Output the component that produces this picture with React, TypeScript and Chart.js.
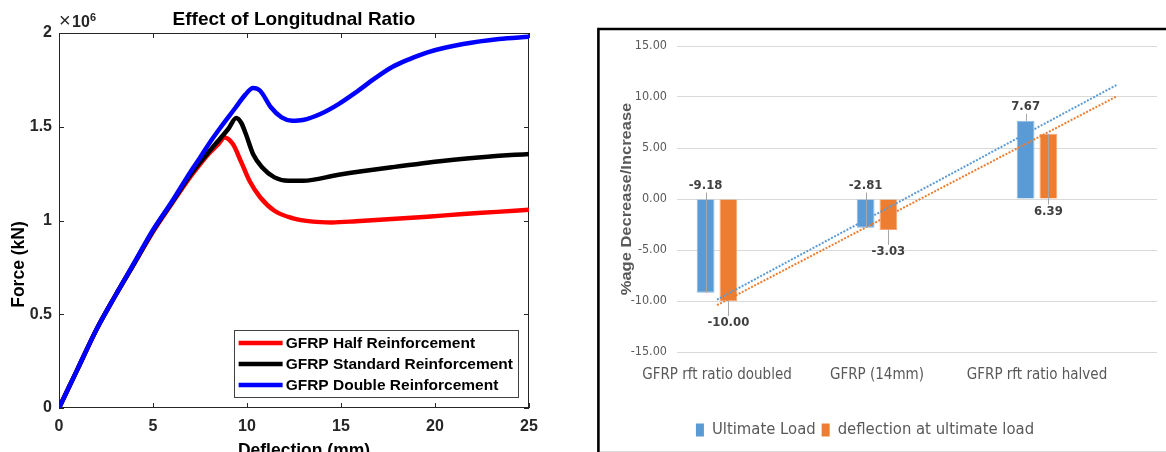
import React, { useEffect, useRef } from "react";
import { Chart, registerables } from "chart.js";

Chart.register(...registerables);

// ---------- Left chart data (force in units of 10^6) ----------
const halfX = [0, 1, 2, 3, 4, 5, 6, 7, 7.5, 8, 8.5, 8.8, 9.25, 9.7, 10.13, 10.7, 11.46, 12.4, 13.5, 14.5, 15.8, 17.7, 19.6, 21.5, 23.3, 25];
const halfY = [0, 0.21, 0.42, 0.6, 0.77, 0.94, 1.09, 1.235, 1.3, 1.36, 1.41, 1.443, 1.408, 1.31, 1.212, 1.124, 1.052, 1.013, 0.994, 0.99, 0.996, 1.008, 1.02, 1.035, 1.046, 1.058];

const standardX = [0, 1, 2, 3, 4, 5, 6, 7, 7.5, 8, 8.6, 9.0, 9.43, 9.7, 9.94, 10.32, 10.8, 11.46, 12.2, 12.97, 14.87, 17.7, 20.5, 22.8, 25];
const standardY = [0, 0.21, 0.42, 0.6, 0.77, 0.945, 1.095, 1.245, 1.31, 1.37, 1.44, 1.488, 1.547, 1.52, 1.461, 1.355, 1.284, 1.23, 1.212, 1.212, 1.244, 1.284, 1.319, 1.34, 1.355];

const doubleX = [0, 1, 2, 3, 4, 5, 6, 7, 7.5, 8.05, 8.62, 9.375, 9.9, 10.32, 10.7, 11.27, 11.84, 12.4, 12.97, 13.9, 14.87, 15.8, 16.76, 17.7, 18.65, 19.6, 21.5, 23.4, 25];
const doubleY = [0, 0.21, 0.42, 0.6, 0.775, 0.95, 1.1, 1.26, 1.335, 1.42, 1.5, 1.6, 1.67, 1.707, 1.692, 1.604, 1.55, 1.532, 1.536, 1.568, 1.621, 1.684, 1.755, 1.817, 1.861, 1.897, 1.941, 1.968, 1.98];

const seriesNames = ["GFRP Half Reinforcement", "GFRP Standard Reinforcement", "GFRP Double Reinforcement"];
const deflectionTicks = [0, 5, 10, 15, 20, 25];
const forceTicks = [0, 0.5, 1, 1.5, 2];

// ---------- Right chart data ----------
const categories = ["GFRP rft ratio doubled", "GFRP (14mm)", "GFRP rft ratio halved"];
const ultimateLoad = [-9.18, -2.81, 7.67];
const deflectionAtUltimate = [-10.0, -3.03, 6.39];
const trendX = [1, 3.5];
const ultimateTrend = [-9.87, 11.2];
const deflectionTrend = [-10.41, 10.08];
const pctTicks = [-15, -10, -5, 0, 5, 10, 15];

const MF = '"Liberation Sans", Arial, sans-serif';
const NF = '"Liberation Sans Narrow", "DejaVu Sans Condensed", sans-serif';

const toPts = (xs: number[], ys: number[]) => xs.map((x, i) => ({ x, y: ys[i] }));

const leftPlugin = {
  id: "matlabDecor",
  beforeDatasetsDraw(chart: any) {
    const { ctx, chartArea: a } = chart;
    ctx.save();
    ctx.strokeStyle = "#262626";
    ctx.lineWidth = 1;
    ctx.strokeRect(a.left + 0.5, a.top + 0.5, a.right - a.left - 1, a.bottom - a.top - 1);
    const xs = chart.scales.x, ys = chart.scales.y;
    ctx.beginPath();
    deflectionTicks.forEach((v) => {
      const p = Math.round(xs.getPixelForValue(v)) + 0.5;
      ctx.moveTo(p, a.bottom); ctx.lineTo(p, a.bottom - 5);
      ctx.moveTo(p, a.top); ctx.lineTo(p, a.top + 5);
    });
    forceTicks.forEach((v) => {
      const p = Math.round(ys.getPixelForValue(v)) + 0.5;
      ctx.moveTo(a.left, p); ctx.lineTo(a.left + 5, p);
      ctx.moveTo(a.right, p); ctx.lineTo(a.right - 5, p);
    });
    ctx.stroke();
    ctx.restore();
  },
  afterDraw(chart: any) {
    const { ctx, chartArea: a } = chart;
    ctx.save();
    ctx.fillStyle = "#000";
    // title
    ctx.textAlign = "center";
    ctx.textBaseline = "alphabetic";
    ctx.font = `bold 19px ${MF}`;
    ctx.fillText("Effect of Longitudnal Ratio", (a.left + a.right) / 2, 25);
    // exponent
    ctx.textAlign = "left";
    ctx.fillStyle = "#262626";
    ctx.font = `20px ${MF}`;
    ctx.fillText("\u00d7", a.left, 27);
    ctx.font = `bold 16px ${MF}`;
    ctx.fillText("10", a.left + 13, 27);
    ctx.font = `bold 11px ${MF}`;
    ctx.fillText("6", a.left + 31, 21);
    // axis titles
    ctx.fillStyle = "#000";
    ctx.font = `bold 17.5px ${MF}`;
    ctx.textAlign = "center";
    ctx.fillText("Deflection (mm)", (a.left + a.right) / 2 + 10, 456);
    ctx.save();
    ctx.translate(24, (a.top + a.bottom) / 2 + 44);
    ctx.rotate(-Math.PI / 2);
    ctx.fillText("Force (kN)", 0, 0);
    ctx.restore();
    // legend
    const ds = chart.data.datasets;
    ctx.font = `bold 15.5px ${MF}`;
    const maxW = Math.max(...ds.map((d: any) => ctx.measureText(d.label).width));
    const boxW = 5 + 44 + 3 + maxW + 5;
    const boxH = 67;
    const boxR = a.right - 11, boxB = a.bottom - 11;
    const boxL = boxR - boxW, boxT = boxB - boxH;
    ctx.fillStyle = "#fff";
    ctx.fillRect(boxL, boxT, boxW, boxH);
    ctx.strokeStyle = "#404040";
    ctx.lineWidth = 1;
    ctx.strokeRect(Math.round(boxL) + 0.5, boxT + 0.5, Math.round(boxW), boxH);
    ds.forEach((d: any, i: number) => {
      const y = boxT + 13 + i * 21;
      ctx.strokeStyle = d.borderColor;
      ctx.lineWidth = 4.5;
      ctx.beginPath();
      ctx.moveTo(boxL + 5, y);
      ctx.lineTo(boxL + 49, y);
      ctx.stroke();
      ctx.fillStyle = "#000";
      ctx.textAlign = "left";
      ctx.textBaseline = "middle";
      ctx.fillText(d.label, boxL + 52, y + 1);
    });
    ctx.restore();
  },
};

const rightPlugin = {
  id: "excelDecor",
  beforeDraw(chart: any) {
    const { ctx, width, height } = chart;
    ctx.save();
    ctx.strokeStyle = "#D9D9D9";
    ctx.lineWidth = 1;
    ctx.beginPath();
    ctx.moveTo(10, height - 0.5);
    ctx.lineTo(width, height - 0.5);
    ctx.stroke();
    ctx.strokeStyle = "#000";
    ctx.lineWidth = 2.6;
    ctx.beginPath();
    ctx.moveTo(8.4, height);
    ctx.lineTo(8.4, 29);
    ctx.lineTo(width, 29);
    ctx.stroke();
    ctx.restore();
  },
  afterDatasetsDraw(chart: any) {
    const { ctx } = chart;
    ctx.save();
    ctx.font = `bold 13px ${NF}`;
    ctx.textAlign = "center";
    ctx.textBaseline = "middle";
    [0, 1].forEach((di) => {
      const meta = chart.getDatasetMeta(di);
      const vals = chart.data.datasets[di].data;
      meta.data.forEach((el: any, i: number) => {
        const { x, y, base } = el.getProps(["x", "y", "base"], true);
        const v = vals[i].y;
        let cy: number;
        ctx.strokeStyle = "#A6A6A6";
        ctx.lineWidth = 1;
        if (di === 0) {
          cy = Math.min(y, base) - 14;
          const lb = cy + 7;
          if (y - lb > 2) {
            ctx.beginPath();
            ctx.moveTo(Math.round(x) + 0.5, lb);
            ctx.lineTo(Math.round(x) + 0.5, y);
            ctx.stroke();
          }
        } else {
          cy = Math.max(y, base) + (v < 0 ? 22 : 13);
          const lt = cy - 7;
          if (lt - y > 2) {
            ctx.beginPath();
            ctx.moveTo(Math.round(x) + 0.5, y);
            ctx.lineTo(Math.round(x) + 0.5, lt);
            ctx.stroke();
          }
        }
        ctx.fillStyle = "#404040";
        ctx.fillText(v.toFixed(2), x, cy);
      });
    });
    ctx.restore();
  },
  afterDraw(chart: any) {
    const { ctx, chartArea: a } = chart;
    ctx.save();
    // y title
    ctx.fillStyle = "#595959";
    ctx.font = `bold 17px ${MF}`;
    ctx.textAlign = "center";
    ctx.textBaseline = "middle";
    ctx.translate(37, (a.top + a.bottom) / 2);
    ctx.rotate(-Math.PI / 2);
    ctx.scale(0.97, 0.85);
    ctx.fillText("%age Decrease/Increase", 0, 0);
    ctx.restore();
    // legend
    ctx.save();
    const items = [0, 1].map((i) => chart.data.datasets[i]);
    ctx.font = `16.5px ${NF}`;
    const widths = items.map((d: any) => ctx.measureText(d.label).width);
    const total = items.length * (8 + 8) + widths.reduce((s, w) => s + w, 0) + 6;
    let x = 275 - total / 2;
    const cy = 430;
    items.forEach((d: any, i: number) => {
      ctx.fillStyle = d.backgroundColor;
      ctx.fillRect(x, cy - 6.5, 8, 13);
      x += 16;
      ctx.fillStyle = "#595959";
      ctx.textAlign = "left";
      ctx.textBaseline = "middle";
      ctx.fillText(d.label, x, cy);
      x += widths[i] + 6;
    });
    ctx.restore();
  },
};

function LeftChart() {
  const ref = useRef<HTMLCanvasElement>(null);
  useEffect(() => {
    const colors = ["#FF0000", "#000000", "#0000FF"];
    const xs = [halfX, standardX, doubleX];
    const ys = [halfY, standardY, doubleY];
    const chart = new Chart(ref.current!, {
      type: "line",
      data: {
        datasets: seriesNames.map((name, i) => ({
          label: name,
          data: toPts(xs[i], ys[i]),
          borderColor: colors[i],
          backgroundColor: colors[i],
          borderWidth: 4.5,
          pointRadius: 0,
          cubicInterpolationMode: "monotone" as const,
          order: 2 - i,
        })),
      },
      options: {
        animation: false,
        responsive: false,
        maintainAspectRatio: false,
        layout: { padding: { left: 0, top: 33, right: 61, bottom: 0 } },
        plugins: { legend: { display: false }, tooltip: { enabled: false } },
        scales: {
          x: {
            type: "linear",
            min: 0,
            max: 25,
            afterBuildTicks: (s: any) => { s.ticks = deflectionTicks.map((v) => ({ value: v })); },
            afterFit: (s: any) => { s.height = 44; },
            grid: { display: false, drawTicks: false },
            border: { display: false },
            ticks: { padding: 9, color: "#262626", font: { family: MF, weight: "bold", size: 16 }, callback: (v: any) => String(v) },
          },
          y: {
            type: "linear",
            min: 0,
            max: 2,
            afterBuildTicks: (s: any) => { s.ticks = forceTicks.map((v) => ({ value: v })); },
            afterFit: (s: any) => { s.width = 59; },
            grid: { display: false, drawTicks: false },
            border: { display: false },
            ticks: { padding: 7, color: "#262626", font: { family: MF, weight: "bold", size: 16 }, callback: (v: any) => String(v) },
          },
        },
      },
      plugins: [leftPlugin],
    } as any);
    return () => chart.destroy();
  }, []);
  return <canvas ref={ref} width={590} height={452} style={{ position: "absolute", left: 0, top: 0 }} />;
}

function RightChart() {
  const ref = useRef<HTMLCanvasElement>(null);
  useEffect(() => {
    const blue = "#5B9BD5";
    const orange = "#ED7D31";
    const chart = new Chart(ref.current!, {
      type: "bar",
      data: {
        datasets: [
          {
            type: "bar",
            label: "Ultimate Load",
            data: ultimateLoad.map((v, i) => ({ x: i + 1, y: v })),
            backgroundColor: blue,
            borderColor: "#8DB9E3",
            borderWidth: 1,
            categoryPercentage: 0.285,
            barPercentage: 0.78,
            order: 2,
          },
          {
            type: "bar",
            label: "deflection at ultimate load",
            data: deflectionAtUltimate.map((v, i) => ({ x: i + 1, y: v })),
            backgroundColor: orange,
            borderColor: "#F3A673",
            borderWidth: 1,
            categoryPercentage: 0.285,
            barPercentage: 0.78,
            order: 2,
          },
          {
            type: "line",
            label: "Linear (Ultimate Load)",
            data: toPts(trendX, ultimateTrend),
            borderColor: blue,
            borderWidth: 2,
            borderDash: [2, 1.5],
            pointRadius: 0,
            order: 0,
          },
          {
            type: "line",
            label: "Linear (deflection at ultimate load)",
            data: toPts(trendX, deflectionTrend),
            borderColor: orange,
            borderWidth: 2,
            borderDash: [2, 1.5],
            pointRadius: 0,
            order: 0,
          },
        ],
      },
      options: {
        animation: false,
        responsive: false,
        maintainAspectRatio: false,
        layout: { padding: { left: 0, top: 46, right: 9, bottom: 0 } },
        plugins: { legend: { display: false }, tooltip: { enabled: false } },
        scales: {
          x: {
            type: "linear",
            min: 0.75,
            max: 3.75,
            offset: false,
            afterBuildTicks: (s: any) => { s.ticks = categories.map((_, i) => ({ value: i + 1 })); },
            afterFit: (s: any) => { s.height = 100; },
            grid: { display: false, drawTicks: false, offset: false },
            border: { display: false },
            ticks: {
              padding: 14,
              color: "#595959",
              font: { family: NF, size: 15 },
              maxRotation: 0,
              autoSkip: false,
              callback: (v: any) => categories[Math.round(Number(v)) - 1] ?? "",
            },
          },
          y: {
            type: "linear",
            min: -15,
            max: 15,
            afterBuildTicks: (s: any) => { s.ticks = pctTicks.map((v) => ({ value: v })); },
            afterFit: (s: any) => { s.width = 87; },
            grid: { color: "#D9D9D9", drawTicks: false, lineWidth: 1 },
            border: { display: false },
            ticks: {
              padding: 10,
              color: "#595959",
              font: { family: NF, size: 12.5 },
              callback: (v: any) => Number(v).toFixed(2),
            },
          },
        },
      },
      plugins: [rightPlugin],
    } as any);
    return () => chart.destroy();
  }, []);
  return <canvas ref={ref} width={576} height={452} style={{ position: "absolute", left: 590, top: 0 }} />;
}

export default function App() {
  return (
    <div
      style={{
        position: "fixed",
        left: 0,
        top: 0,
        width: 1166,
        height: 452,
        overflow: "hidden",
        background: "#fff",
      }}
    >
      <LeftChart />
      <RightChart />
    </div>
  );
}
